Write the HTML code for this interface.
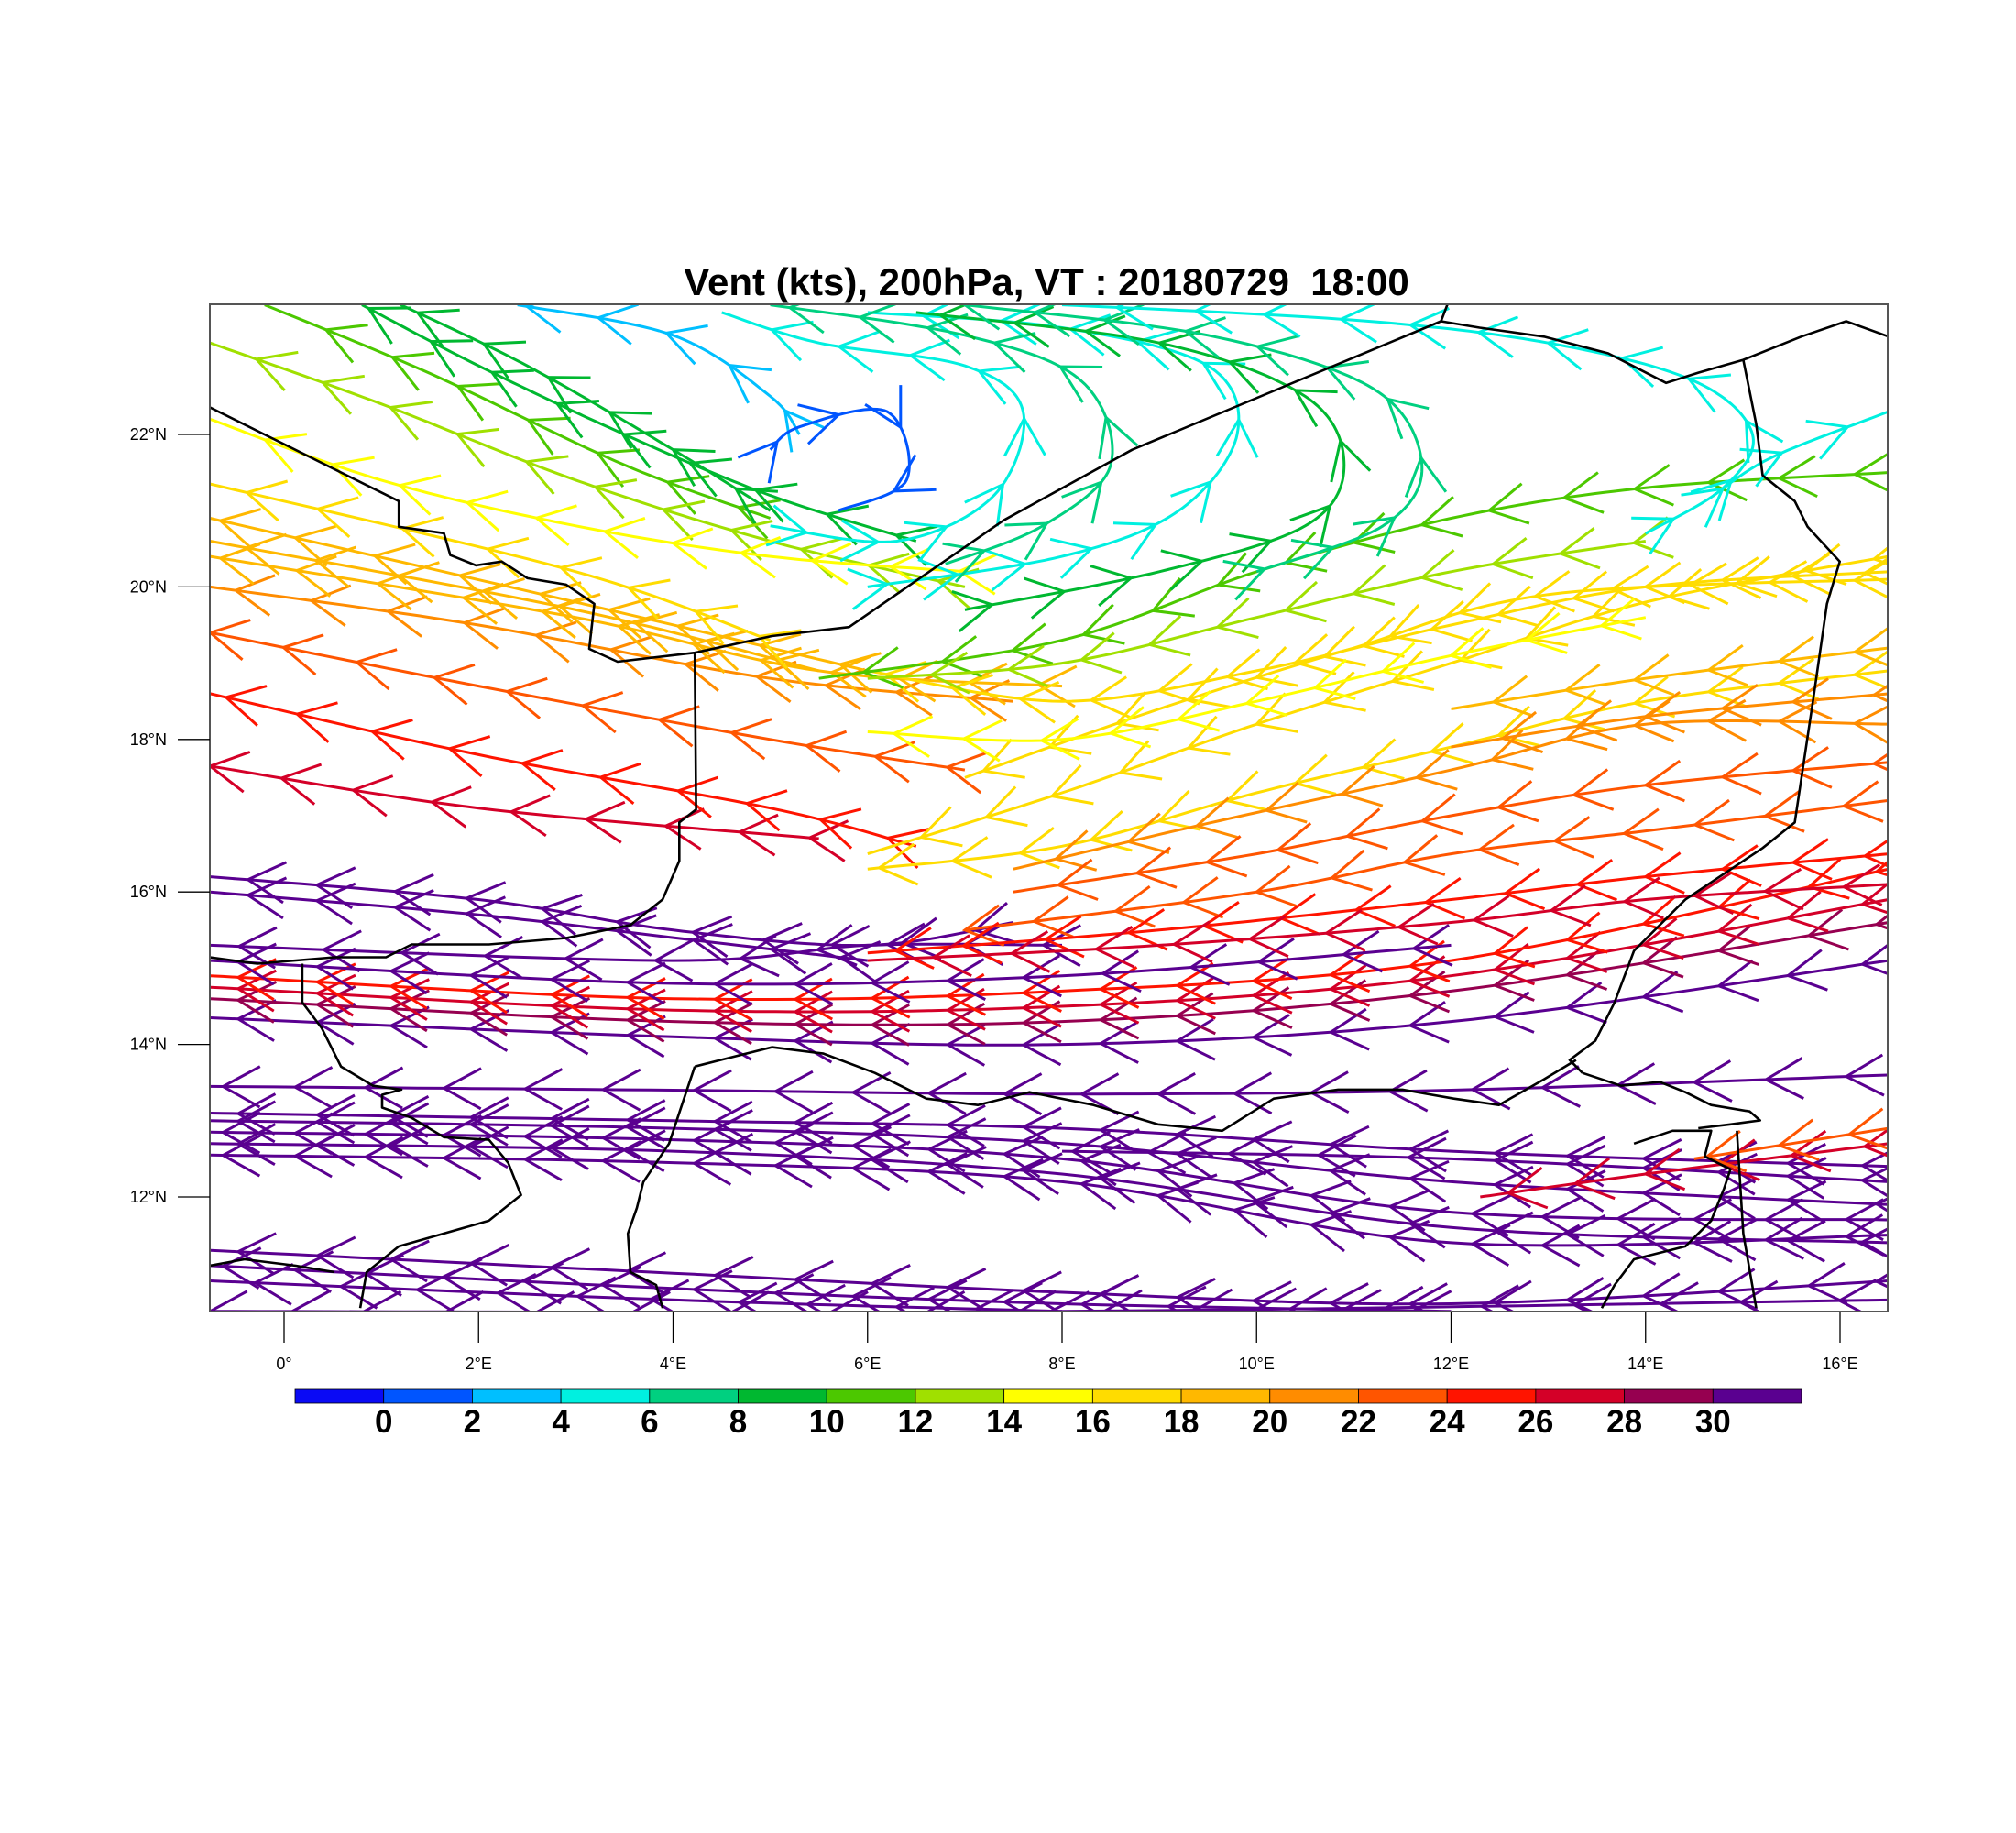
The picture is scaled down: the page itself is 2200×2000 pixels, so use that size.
<!DOCTYPE html>
<html><head><meta charset="utf-8"><style>
html,body{margin:0;padding:0;background:#fff;}
svg{display:block;font-family:"Liberation Sans",sans-serif;}
</style></head><body>
<svg id="chart" width="2200" height="2000" viewBox="0 0 2200 2000" xmlns="http://www.w3.org/2000/svg">
<defs><clipPath id="plotclip"><rect x="229" y="332" width="1831" height="1099"/></clipPath></defs>
<text x="1142" y="322" text-anchor="middle" font-size="42" font-weight="bold">Vent (kts), 200hPa, VT : 20180729&#160; 18:00</text>
<g id="streams" clip-path="url(#plotclip)"></g>
<g id="borders" clip-path="url(#plotclip)" fill="none" stroke="#000" stroke-width="2.6" stroke-linejoin="round"></g>
<rect x="229" y="332" width="1831" height="1099" fill="none" stroke="#555" stroke-width="2"/>
<g id="axes"></g>
<g id="cbar"></g>
</svg>
<script>
const lonTicks=[0,2,4,6,8,10,12,14,16];
const lonLabels=["0°","2°E","4°E","6°E","8°E","10°E","12°E","14°E","16°E"];
const latTicks=[12,14,16,18,20,22];
const latLabels=["12°N","14°N","16°N","18°N","20°N","22°N"];
const cbarColors=["#0a0af5","#0055ff","#00bfff","#00f0e0","#00d080","#00b830","#4cc800","#a0e000","#ffff00","#ffdc00","#ffb800","#ff8c00","#ff5500","#ff1400","#d40028","#960050","#5a0090"];
const cbarLabels=["0","2","4","6","8","10","12","14","16","18","20","22","24","26","28","30"];
// streamline speeds (kts) and paths [lon,lat]
const streamSpeeds=[31,31,31,31,31,31,31,31,31,31,31,26,23,
 31,29,27,25,31,31,31,31,
 26,24,22,20,19,18,18,16,
 16,16,16,16,14,10,12,20,22,22,24,26,19,20,
 10,9,9,12,14,3,1,5,4,6,8,6,5,5];
const streamPaths=[
 [[-0.76,13.45],[4,13.4],[8,13.35],[12,13.4],[16.5,13.6]],
 [[-0.76,13.1],[4,13.0],[8,12.9],[12,12.6],[16.5,12.4]],
 [[-0.76,13.0],[4,12.9],[8,12.7],[12,12.2],[16.5,11.9]],
 [[-0.76,12.85],[4,12.75],[8,12.5],[12,11.8],[16.5,11.7]],
 [[-0.76,12.7],[4,12.6],[8,12.3],[12,11.6],[16.5,11.4]],
 [[-0.76,12.55],[4,12.45],[8,12.2],[12,11.4],[16.5,11.5]],
 [[8,12.6],[12,12.5],[16.5,12.2]],
 [[-0.76,11.3],[4,11.0],[8,10.75],[12,10.6],[16.5,10.9]],
 [[-0.76,11.1],[4,10.8],[8,10.6],[12,10.5]],
 [[-0.76,10.9],[4,10.65],[8,10.5]],
 [[-0.76,10.5],[8,10.5],[16.5,10.65]],
 [[12.3,12.0],[14,12.3],[16.5,12.7]],
 [[14.5,12.5],[16.5,12.9]],
 [[-0.76,14.35],[4,14.1],[8,14.0],[12,14.3],[16.5,15.1]],
 [[-0.76,14.6],[4,14.3],[8,14.3],[12,14.7],[16.5,15.6]],
 [[-0.76,14.75],[4,14.45],[8,14.5],[12,14.9],[16.5,15.9]],
 [[-0.76,14.9],[4,14.6],[8,14.7],[12,15.1],[16.5,16.3]],
 [[-0.76,15.1],[4,14.8],[8,14.9],[12,15.3]],
 [[-0.76,15.3],[4,15.1],[6,15.3],[8,15.3]],
 [[-0.76,16.2],[2,15.9],[4,15.5],[6,15.3],[7.5,15.6]],
 [[-0.76,16.0],[2,15.7],[4,15.4],[6,15.1]],
 [[-0.76,17.65],[2,17.1],[5.5,16.7]],
 [[-0.76,18.6],[2,17.8],[5,17.1],[6.5,16.6]],
 [[-0.76,19.4],[2,18.7],[5,18.0],[7,17.6]],
 [[-0.76,20.0],[2,19.5],[5,18.8],[7.5,18.5]],
 [[-0.76,20.4],[3,19.6],[5.5,18.9],[8,18.7]],
 [[-0.76,20.6],[3,19.7],[5.5,18.9]],
 [[-0.76,20.9],[3,19.8],[6,18.9]],
 [[-0.76,21.35],[3,20.2],[5,19.3]],
 [[6,16.3],[8,16.6],[10,17.3],[12,17.9],[14,18.5],[16.5,18.9]],
 [[6,16.5],[8,17.3],[10,18.2],[12,19.0],[14,19.8],[16.5,20.4]],
 [[7,17.5],[9,18.4],[11,19.2],[13,19.9],[16.5,20.1]],
 [[6,18.9],[8,18.5],[10,18.9],[12,19.5],[14,20],[16.5,20.2]],
 [[6,18.1],[8,18.0],[10,18.5],[12,19.1],[14,19.6]],
 [[5.5,18.8],[8,19.3],[10,20.2],[12,20.9],[14,21.3],[16.5,21.5]],
 [[6,18.8],[8,19.0],[10,19.6],[12,20.2],[14,20.6]],
 [[7.5,16.3],[9.5,16.9],[12,17.6],[14,18.2],[16.5,18.2]],
 [[7.5,16.0],[10,16.5],[12,17.0],[14,17.4],[16.5,17.7]],
 [[7,15.5],[10,16.0],[12,16.5],[14,16.8],[16.5,17.2]],
 [[6,15.2],[9,15.5],[12,15.9],[14,16.2],[16.5,16.5]],
 [[6,15.1],[9,15.3],[12,15.6],[14,15.9],[16.5,16.1]],
 [[12,18.4],[14,18.8],[16.5,19.2]],
 [[12,17.9],[14,18.3],[16.5,18.6]],
 [[-0.2,23.7],[1.5,22.8],[3.5,21.6],[5,20.9]],
 [[0.8,23.7],[2,22.9],[3.5,22],[5,21.2],[6.5,20.6]],
 [[1.2,23.7],[2.5,22.9],[4,21.8],[5,21]],
 [[-0.76,23.2],[1,22.4],[3,21.4],[5,20.6],[7,20.0]],
 [[-0.76,22.2],[1,21.4],[3,20.8],[5,20.4],[7,20.2]],
 [[2.4,23.7],[4,23.3],[5,22.5],[5.3,22.0]],
 [[5.7,21.0],[6.4,21.4],[6.2,22.3],[5.3,22.1],[5.0,21.8]],
 [[4.5,23.6],[5.5,23.2],[7,22.9],[7.6,22.3],[7.3,21.2],[6.3,20.6],[5,20.8]],
 [[6,23.6],[8,23.4],[9.5,22.9],[9.8,22],[9.2,21],[8,20.4],[6,20]],
 [[5,23.7],[7,23.3],[8.2,22.7],[8.5,21.6],[7.8,20.8],[6.8,20.3]],
 [[6.5,23.6],[9,23.2],[10.5,22.5],[10.9,21.6],[10.5,20.8],[9,20.2],[7,19.7]],
 [[7,23.7],[9.5,23.3],[11.2,22.6],[11.7,21.6],[11.3,20.8],[10,20.2]],
 [[8,23.7],[11,23.5],[13,23.2],[14.5,22.7],[15.1,22],[14.8,21.3],[14,20.7]],
 [[16.5,22.3],[15.3,21.7],[14.7,21.2]]
];
const borderLines=[
 [[163,317],[310,390],[310,410],[345,415],[350,432],[370,440],[390,437],[410,450],[440,455],[462,470],[458,505],[480,515],[540,508],[600,495],[660,488],[780,405],[880,350],[1000,300],[1120,250],[1125,237]],
 [[1120,250],[1150,255],[1200,262],[1250,275],[1295,298],[1320,290],[1355,280],[1400,262],[1435,250],[1468,262]],
 [[1355,280],[1365,330],[1370,370],[1395,390],[1405,410],[1430,437],[1420,470],[1410,540],[1395,640],[1370,660],[1310,700],[1270,740],[1255,780],[1240,810],[1220,825],[1230,835]],
 [[540,508],[541,630],[528,640],[528,670],[515,700],[490,720],[440,730],[380,735],[320,735],[300,745],[260,745],[200,750],[163,745]],
 [[235,750],[235,780],[250,800],[265,830],[290,845],[312,848],[297,852],[297,862],[320,870],[345,885],[380,887],[395,905],[405,930],[380,950],[345,960],[310,970],[285,990],[280,1018]],
 [[163,985],[190,980],[230,985],[260,990]],
 [[540,830],[560,825],[600,815],[640,820],[680,835],[720,855],[760,860],[800,850],[850,860],[900,875],[950,880],[990,855],[1040,848],[1090,848],[1130,855],[1165,860],[1200,840],[1225,825]],
 [[540,830],[530,860],[520,890],[500,920],[495,940],[488,960],[490,990],[510,1000],[515,1018]],
 [[1270,890],[1300,880],[1330,880],[1325,900],[1345,910],[1340,925],[1330,950],[1310,970],[1270,980],[1255,1000],[1245,1018]],
 [[1350,880],[1355,960],[1365,1018]],
 [[1230,835],[1245,840],[1260,845],[1290,842],[1310,850],[1330,860],[1360,865],[1368,872],[1345,875],[1320,878]]
];
const NS="http://www.w3.org/2000/svg";
const X=lon=>310+lon*212.25/2;
const Y=lat=>474+(22-lat)*83.2;
function mk(tag,attrs,parent){const e=document.createElementNS(NS,tag);for(const k in attrs)e.setAttribute(k,attrs[k]);parent.appendChild(e);return e;}
function colorFor(v){let i=Math.floor(v/2)+1;if(v<0)i=0;return cbarColors[Math.max(0,Math.min(16,i))];}
function smooth(pts){const out=[];for(let i=0;i<pts.length-1;i++){const p0=pts[Math.max(0,i-1)],p1=pts[i],p2=pts[i+1],p3=pts[Math.min(pts.length-1,i+2)];for(let t=0;t<1;t+=0.05){const t2=t*t,t3=t2*t;const f=(a,b,c,d)=>0.5*(2*b+(-a+c)*t+(2*a-5*b+4*c-d)*t2+(-a+3*b-3*c+d)*t3);out.push([f(p0[0],p1[0],p2[0],p3[0]),f(p0[1],p1[1],p2[1],p3[1])]);}}out.push(pts[pts.length-1]);return out;}
const sg=document.getElementById('streams');
streamPaths.forEach((path,si)=>{
 const col=colorFor(streamSpeeds[si]);
 const px=path.map(p=>[X(p[0]),Y(p[1])]).reverse();
 const s=smooth(px);
 const g=mk('g',{},sg);
 
 
 mk('polyline',{points:s.map(p=>p[0].toFixed(1)+','+p[1].toFixed(1)).join(' '),fill:'none',stroke:col,'stroke-width':3,'stroke-linejoin':'round'},g);
 let acc=30+(si*17)%40,d='';
 for(let i=1;i<s.length;i++){const dx=s[i][0]-s[i-1][0],dy=s[i][1]-s[i-1][1],L=Math.hypot(dx,dy);if(!L)continue;acc+=L;
  if(acc>=74){acc=0;const ux=dx/L,uy=dy/L,bx=-ux,by=-uy,c=Math.cos(0.5),sn=Math.sin(0.5),len=46;
   const a1=[bx*c-by*sn,bx*sn+by*c],a2=[bx*c+by*sn,-bx*sn+by*c];
   const p=s[i];d+=`M${(p[0]+a1[0]*len).toFixed(1)},${(p[1]+a1[1]*len).toFixed(1)}L${p[0].toFixed(1)},${p[1].toFixed(1)}L${(p[0]+a2[0]*len).toFixed(1)},${(p[1]+a2[1]*len).toFixed(1)}`;}}
 if(d)mk('path',{d:d,fill:'none',stroke:col,'stroke-width':3},g);
});
const bg=document.getElementById('borders');
borderLines.forEach(l=>{const e=mk('polyline',{points:l.map(p=>(p[0]*1.404).toFixed(1)+','+(p[1]*1.402).toFixed(1)).join(' ')},bg);
 
 });
const ax=document.getElementById('axes');
lonTicks.forEach((v,i)=>{mk('line',{x1:X(v),x2:X(v),y1:1431,y2:1465,stroke:'#000','stroke-width':1.3},ax);
 const t=mk('text',{x:X(v),y:1494,'text-anchor':'middle','font-size':18},ax);t.textContent=lonLabels[i];
 
 });
latTicks.forEach((v,i)=>{mk('line',{x1:194,x2:229,y1:Y(v),y2:Y(v),stroke:'#000','stroke-width':1.3},ax);
 const t=mk('text',{x:182,y:Y(v)+6,'text-anchor':'end','font-size':18},ax);t.textContent=latLabels[i];
 
 });
const cb=document.getElementById('cbar');const bw=(1966-322)/17;
cbarColors.forEach((c,i)=>{const r=mk('rect',{x:322+i*bw,y:1516,width:bw,height:15,fill:c,stroke:'#000','stroke-width':0.8},cb);
 
 });
cbarLabels.forEach((l,i)=>{const t=mk('text',{x:322+(i+1)*bw,y:1563,'text-anchor':'middle','font-size':35,'font-weight':'bold'},cb);t.textContent=l;
 
 });
</script>
</body></html>
